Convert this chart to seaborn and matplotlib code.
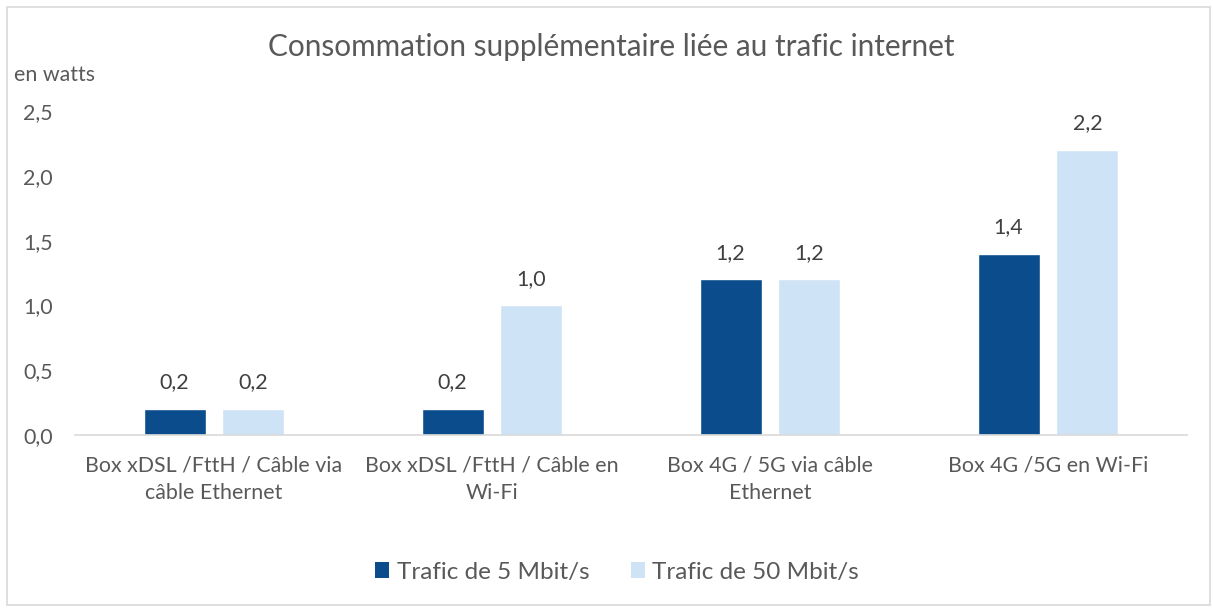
import matplotlib
matplotlib.use("Agg")
import matplotlib.pyplot as plt
import seaborn as sns
import pandas as pd
from matplotlib.patches import Rectangle, Patch

categories = [
    "Box xDSL /FttH / Câble via\ncâble Ethernet",
    "Box xDSL /FttH / Câble en\nWi-Fi",
    "Box 4G / 5G via câble\nEthernet",
    "Box 4G /5G en Wi-Fi",
]
series_names = ["Trafic de 5 Mbit/s", "Trafic de 50 Mbit/s"]
values_5 = [0.2, 0.2, 1.2, 1.4]
values_50 = [0.2, 1.0, 1.2, 2.2]
yticks = [0.0, 0.5, 1.0, 1.5, 2.0, 2.5]
title = "Consommation supplémentaire liée au trafic internet"
unit = "en watts"

colors = ["#0B4C8C", "#CFE3F6"]
text_color = "#595959"

df = pd.DataFrame({
    "cat": categories * 2,
    "serie": [series_names[0]] * 4 + [series_names[1]] * 4,
    "val": values_5 + values_50,
})

sns.set_theme(style="white")
plt.rcParams["font.family"] = ["Lato", "DejaVu Sans"]

W, H = 1213, 608
fig = plt.figure(figsize=(W / 100, H / 100), dpi=100)
ax = fig.add_axes([75 / W, (H - 435) / H, (1187 - 75) / W, (435 - 111) / H])

sns.barplot(data=df, x="cat", y="val", hue="serie", palette=colors,
            width=0.568, gap=0.215, ax=ax, legend=False, saturation=1)

ax.set_ylim(0, 2.5)
ax.set_xlim(-0.5, 3.5)
ax.set_yticks(yticks)
ax.set_yticklabels([f"{v:.1f}".replace(".", ",") for v in yticks])
ax.set_xlabel("")
ax.set_ylabel("")
for s in ["top", "right", "left"]:
    ax.spines[s].set_visible(False)
ax.spines["bottom"].set_color("#D9D9D9")
ax.spines["bottom"].set_linewidth(1.2)
ax.tick_params(axis="both", length=0, colors=text_color, labelsize=15.4)
ax.tick_params(axis="y", pad=16)
ax.tick_params(axis="x", pad=15)
for t in ax.get_xticklabels():
    t.set_linespacing(1.45)

for cont in ax.containers:
    labels = [f"{b.get_height():.1f}".replace(".", ",") for b in cont]
    ax.bar_label(cont, labels=labels, padding=12, color="#404040", fontsize=15.4)

fig.text(611 / W, 1 - 47 / H, title, ha="center", va="center",
         fontsize=21.4, color=text_color)
fig.text(14 / W, 1 - 75 / H, unit, ha="left", va="center",
         fontsize=15.4, color=text_color)

handles = [Patch(facecolor=c, edgecolor="none") for c in colors]
fig.legend(handles, series_names, loc="center", bbox_to_anchor=(617 / W, 1 - 572 / H),
           ncol=2, frameon=False, fontsize=17.5, labelcolor=text_color,
           handlelength=0.6, handleheight=0.6, handletextpad=0.3, columnspacing=1.7)

fig.patches.append(Rectangle((7 / W, 3 / H), (1210 - 7) / W, (605 - 7) / H,
                             transform=fig.transFigure, fill=False,
                             edgecolor="#D9D9D9", linewidth=1.2))

fig.savefig("out.png", dpi=100)
